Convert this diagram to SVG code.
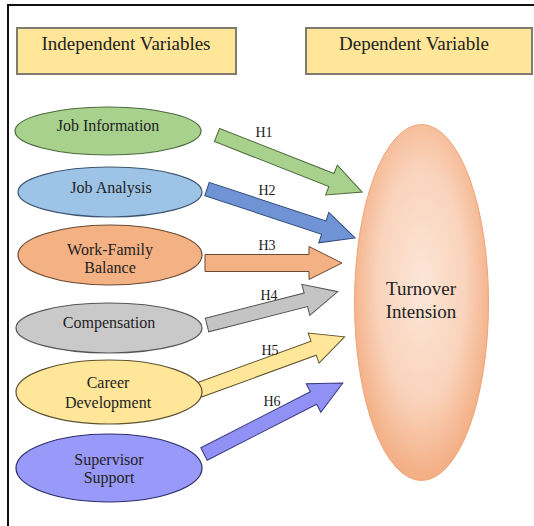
<svg xmlns="http://www.w3.org/2000/svg" width="534" height="526" viewBox="0 0 534 526">
<defs>
<radialGradient id="gTurn" cx="0.5" cy="0.45" r="0.55">
<stop offset="0" stop-color="#fce6d8"/>
<stop offset="0.6" stop-color="#fad3bb"/>
<stop offset="1" stop-color="#f3ad82"/>
</radialGradient>
</defs>
<style>
.hdr{fill:#ffe699;stroke:#7f7a6e;stroke-width:2}
text{font-family:'Liberation Serif','DejaVu Serif',serif;fill:#222;text-anchor:middle}
.ht{font-size:19px}
.nt{font-size:16px}
.lt{font-size:14px}
.el{stroke-width:1.2}
.ar{stroke-width:1;stroke-linejoin:miter}
</style>
<rect x="0" y="0" width="534" height="526" fill="#ffffff"/>
<path d="M8,526 V5 H534" fill="none" stroke="#111" stroke-width="2"/>

<g id="hdr-independent">
<rect class="hdr" x="17" y="28" width="219" height="46"/>
<text class="ht" x="126" y="50" font-family="Liberation Serif, serif">Independent Variables</text>
</g>
<g id="hdr-dependent">
<rect class="hdr" x="306" y="28" width="226" height="46"/>
<text class="ht" x="414" y="50" font-family="Liberation Serif, serif">Dependent Variable</text>
</g>

<g id="connectors">
<g id="h1">
<path class="ar" fill="#a9d18e" stroke="#4d6b3c" transform="translate(217,135) rotate(21.46)" d="M0,-7 L123,-7 L123,-16 L156,0 L123,16 L123,7 L0,7 Z"/>
<text class="lt" x="264" y="137">H1</text>
</g>
<g id="h2">
<path class="ar" fill="#6f93d4" stroke="#2f4a7a" transform="translate(207,189) rotate(18.3)" d="M0,-7 L123,-7 L123,-16 L156,0 L123,16 L123,7 L0,7 Z"/>
<text class="lt" x="267" y="195">H2</text>
</g>
<g id="h3">
<path class="ar" fill="#f4b183" stroke="#6b4a33" transform="translate(205,263) rotate(0)" d="M0,-8.5 L104,-8.5 L104,-16.5 L137,0 L104,16.5 L104,8.5 L0,8.5 Z"/>
<text class="lt" x="267" y="250">H3</text>
</g>
<g id="h4">
<path class="ar" fill="#c4c4c4" stroke="#555" transform="translate(207,325) rotate(-14.3)" d="M0,-7 L102,-7 L102,-16 L135,0 L102,16 L102,7 L0,7 Z"/>
<text class="lt" x="269" y="300">H4</text>
</g>
<g id="h5">
<path class="ar" fill="#ffe699" stroke="#5e5330" transform="translate(199,390) rotate(-20.06)" d="M0,-7.5 L122,-7.5 L122,-16 L155,0 L122,16 L122,7.5 L0,7.5 Z"/>
<text class="lt" x="270" y="355">H5</text>
</g>
<g id="h6">
<path class="ar" fill="#9090f5" stroke="#3a3a80" transform="translate(204,454) rotate(-27.1)" d="M0,-7 L123,-7 L123,-16 L156,0 L123,16 L123,7 L0,7 Z"/>
<text class="lt" x="272" y="406">H6</text>
</g>
</g>

<g id="job-information">
<ellipse class="el" cx="108" cy="131" rx="93" ry="24" fill="#a9d18e" stroke="#4d6b3c"/>
<text class="nt" x="108" y="131">Job Information</text>
</g>
<g id="job-analysis">
<ellipse class="el" cx="110" cy="192" rx="92" ry="25" fill="#9dc3e6" stroke="#3d5670"/>
<text class="nt" x="111" y="193">Job Analysis</text>
</g>
<g id="work-family-balance">
<ellipse class="el" cx="110" cy="255" rx="92" ry="30" fill="#f4b183" stroke="#6b4a33"/>
<text class="nt" x="110" y="255">Work-Family</text>
<text class="nt" x="110" y="273">Balance</text>
</g>
<g id="compensation">
<ellipse class="el" cx="109" cy="328" rx="93" ry="25" fill="#c9c9c9" stroke="#555"/>
<text class="nt" x="109" y="328">Compensation</text>
</g>
<g id="career-development">
<ellipse class="el" cx="109" cy="392" rx="93" ry="32" fill="#ffe699" stroke="#5e5330"/>
<text class="nt" x="108" y="388">Career</text>
<text class="nt" x="108" y="408">Development</text>
</g>
<g id="supervisor-support">
<ellipse class="el" cx="109" cy="468" rx="93" ry="34" fill="#9999fa" stroke="#2d2d6b"/>
<text class="nt" x="109" y="465">Supervisor</text>
<text class="nt" x="109" y="483">Support</text>
</g>

<g id="turnover-intension">
<ellipse cx="421.5" cy="302.5" rx="67" ry="178" fill="url(#gTurn)" stroke="#eea57a" stroke-width="1"/>
<text class="ht" x="421" y="295">Turnover</text>
<text class="ht" x="421" y="318">Intension</text>
</g>
</svg>
